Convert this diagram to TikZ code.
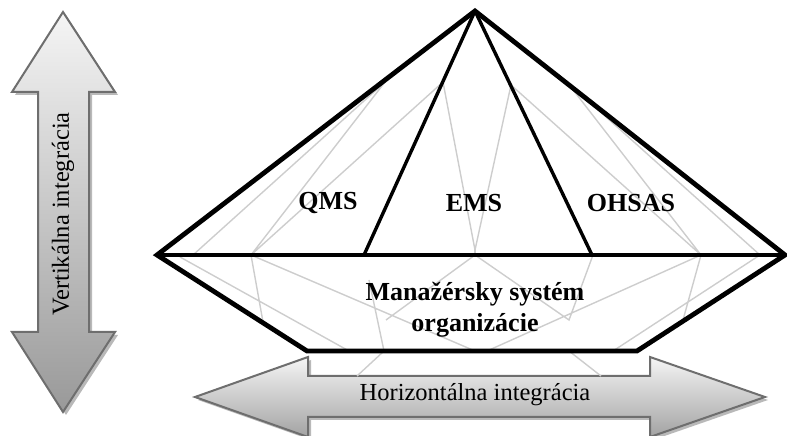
\documentclass[tikz,border=0pt]{standalone}
\usepackage{fontspec}
\setmainfont{Liberation Serif}
\begin{document}
\begin{tikzpicture}[x=1pt,y=1pt,
  thickline/.style={line width=4.8pt,black,line join=miter},
  innerline/.style={line width=3.4pt,black},
  netline/.style={line width=1.4pt,color=netgray},
  arrowbody/.style={draw=arrowgray,line width=2pt,line join=miter},
  shadowbody/.style={fill=gray!55,draw=none},
  lbl/.style={font=\bfseries\fontsize{26}{31}\selectfont,inner sep=0pt},
  arlbl/.style={font=\fontsize{24.5}{28}\selectfont,inner sep=0pt}]
\definecolor{netgray}{RGB}{205,205,205}
\definecolor{arrowgray}{RGB}{110,110,110}
\useasboundingbox (0,0) rectangle (787,436);
% vertical arrow
\fill[shadowbody] (66,421) -- (118,341) -- (92,341) -- (92,101) -- (118,101) -- (66,21) -- (15,101) -- (41,101) -- (41,341) -- (15,341) -- cycle;
\shade[arrowbody,top color=white!96!black,bottom color=black!40] (63,424) -- (115,344) -- (89,344) -- (89,104) -- (115,104) -- (63,24) -- (12,104) -- (38,104) -- (38,344) -- (12,344) -- cycle;
\node[arlbl,rotate=90] (vtext) at (63,222) {Vertikálna integrácia};
% horizontal arrow
\fill[shadowbody] (198,36) -- (311,76) -- (311,57) -- (653,57) -- (653,76) -- (768,36) -- (653,-4) -- (653,16) -- (311,16) -- (311,-4) -- cycle;
\shade[arrowbody,top color=white!96!black,bottom color=black!36] (195,39) -- (308,79) -- (308,60) -- (650,60) -- (650,79) -- (765,39) -- (650,-1) -- (650,19) -- (308,19) -- (308,-1) -- cycle;
\node[arlbl] (htext) at (475,41) {Horizontálna integrácia};
% net coordinates
\coordinate (p1) at (385,354);
\coordinate (p2) at (443,354);
\coordinate (p3) at (511,351);
\coordinate (p4) at (567,354);
\coordinate (q1) at (193,181);
\coordinate (q2) at (251,181);
\coordinate (q3) at (475,186);
\coordinate (q4) at (701,181);
\coordinate (q5) at (760,181);
\coordinate (q0) at (180,179);
\coordinate (c) at (475,181);
\coordinate (r1) at (263,114);
\coordinate (r2) at (386,116);
\coordinate (r3) at (569,116);
\coordinate (r4) at (683,116);
\coordinate (m1) at (369,156);
\coordinate (s1) at (349,85);
\coordinate (s2) at (384,85);
\coordinate (s3) at (475,85);
\coordinate (s4) at (487,85);
\coordinate (s5) at (569,85);
\coordinate (s6) at (613,85);
\coordinate (t1) at (357,60);
\coordinate (t2) at (601,60);
\coordinate (k1) at (593,181);
\draw[netline] (p1) -- (q1) (p1) -- (q2) (p2) -- (q2) (p2) -- (q3) -- (p3) (p3) -- (q4) (p4) -- (q4) (p4) -- (q5);
\draw[netline] (q3) -- (c);
\draw[netline] (q0) -- (s1) (q2) -- (r1) (q2) -- (s3) (c) -- (r2) (m1) -- (s2) -- (t1)
  (c) -- (r3) -- (k1) (q4) -- (r4) (q4) -- (s4) (q5) -- (s6) (s5) -- (t2);
% black structure
\coordinate (A) at (475,425);
\coordinate (L) at (157,181);
\coordinate (R) at (785,181);
\coordinate (BL) at (307,85);
\coordinate (BR) at (637,85);
\coordinate (IL) at (364,181);
\coordinate (IR) at (592,181);
\draw[innerline] (A) -- (IL) (A) -- (IR);
\draw[thickline] (L) -- (R);
\draw[thickline] (A) -- (L) -- (BL) -- (BR) -- (R) -- cycle;
% labels
\node[lbl] (qms) at (328,233) {QMS};
\node[lbl] (ems) at (474,233) {EMS};
\node[lbl] (ohsas) at (631,233) {OHSAS};
\node[lbl,align=center] (ms) at (475,126) {Manažérsky systém\\organizácie};
\end{tikzpicture}
\end{document}
